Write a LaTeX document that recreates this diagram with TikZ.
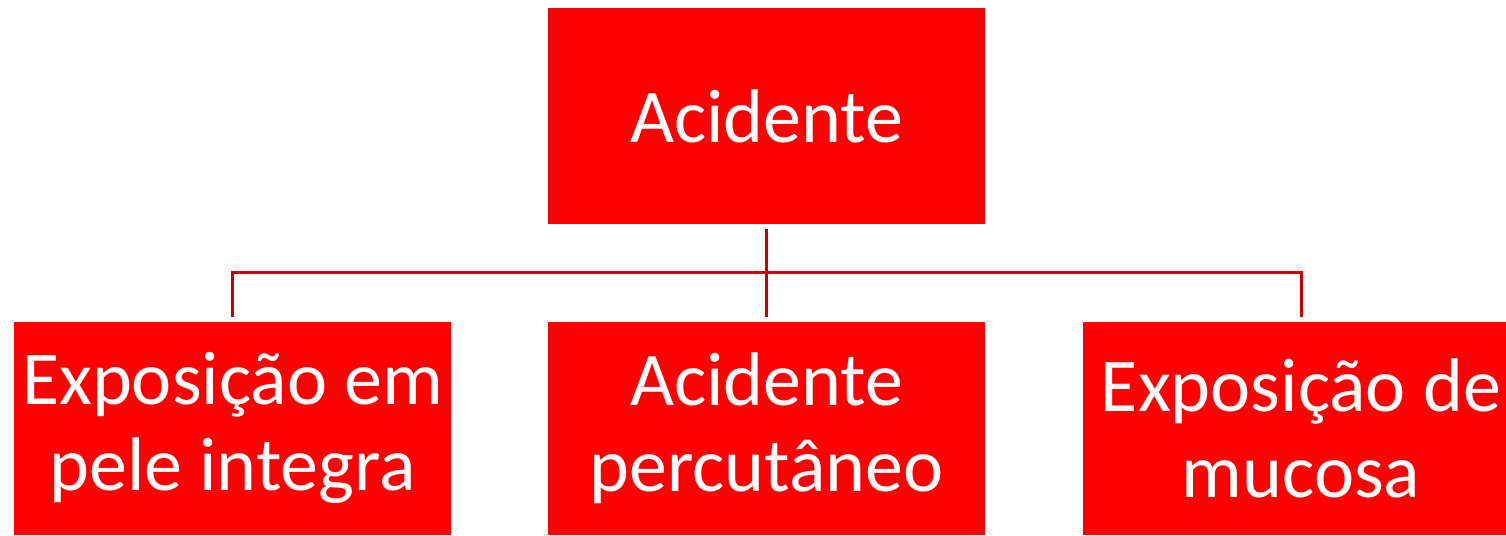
\documentclass[tikz,border=0pt]{standalone}
\usepackage{fontspec}
\setmainfont{Carlito}
\usepackage{tikz}
\definecolor{boxred}{HTML}{FF0000}
\definecolor{linkred}{HTML}{C80000}
\tikzset{
  boxnode/.style={fill=boxred, text=white, inner sep=0pt, align=center,
    minimum width=437pt, font=\fontsize{76}{86}\selectfont},
  link/.style={linkred, line width=3pt}
}

\begin{document}
\begin{tikzpicture}[x=1pt,y=-1pt]
\useasboundingbox (0,0) rectangle (1506,535);
\node[boxnode, minimum height=216pt] (acidente) at (766.5,116) {Acidente};
%
\node[boxnode, minimum height=213pt] (pele) at (232.5,428) {Exposição em\\pele integra};
\node[boxnode, minimum height=213pt] (percutaneo) at (766.5,428) {Acidente\\percutâneo};
\node[boxnode, minimum height=213pt] (mucosa) at (1301,428) {Exposição de\\mucosa};
%
\coordinate (bar) at (0,272);
\draw[link] ([yshift=-5pt]acidente.south) -- ([yshift=4pt]percutaneo.north);
\draw[link] ([yshift=4pt]pele.north) -- (pele.north |- bar) -- (mucosa.north |- bar) -- ([yshift=4pt]mucosa.north);
\end{tikzpicture}
\end{document}
